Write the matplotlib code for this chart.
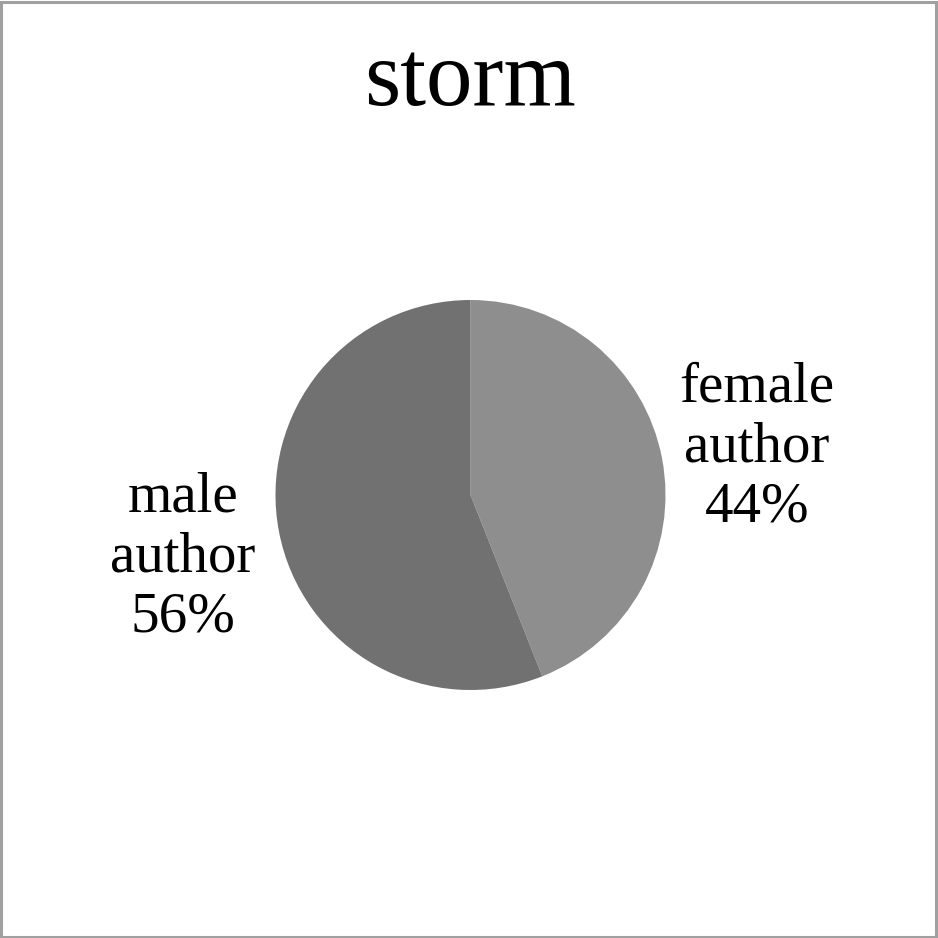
import matplotlib
matplotlib.use("Agg")
import matplotlib.pyplot as plt
from matplotlib.patches import Rectangle

# data
categories = ["female\nauthor", "male\nauthor"]
shares = [44, 56]
colors = ["#8e8e8e", "#717171"]
title = "storm"

plt.rcParams['font.family'] = ['Liberation Serif', 'DejaVu Serif']

fig = plt.figure(figsize=(9.38, 9.38), dpi=100)
fig.patch.set_facecolor("white")

# light grey frame round the whole chart
fig.patches.append(Rectangle((0.0015, 0.0015), 0.996, 0.996, transform=fig.transFigure,
                             fill=False, edgecolor="#a0a0a0", linewidth=2.2))

# pie axes: centre at (470, 495) px, radius 195 px
r = 195 / 938
cx, cy = 470.5 / 938, 1 - 495 / 938
ax = fig.add_axes([cx - r, cy - r, 2 * r, 2 * r])
wedges, _ = ax.pie(shares, colors=colors, startangle=90, counterclock=False,
                   radius=1.0, wedgeprops=dict(linewidth=0))
ax.set_xlim(-1, 1)
ax.set_ylim(-1, 1)
ax.set_aspect("equal")
ax.axis("off")

# labels beside the slices
label_pos = [(1.47, 0.245), (-1.475, -0.32)]
for (lx, ly), name, pct in zip(label_pos, categories, shares):
    ax.text(lx, ly, f"{name}\n{pct}%", ha="center", va="center",
            fontsize=41, linespacing=1.2, clip_on=False)

fig.text(cx, 1 - 82 / 938, title, ha="center", va="center", fontsize=67)

fig.savefig("out.png", dpi=100)
